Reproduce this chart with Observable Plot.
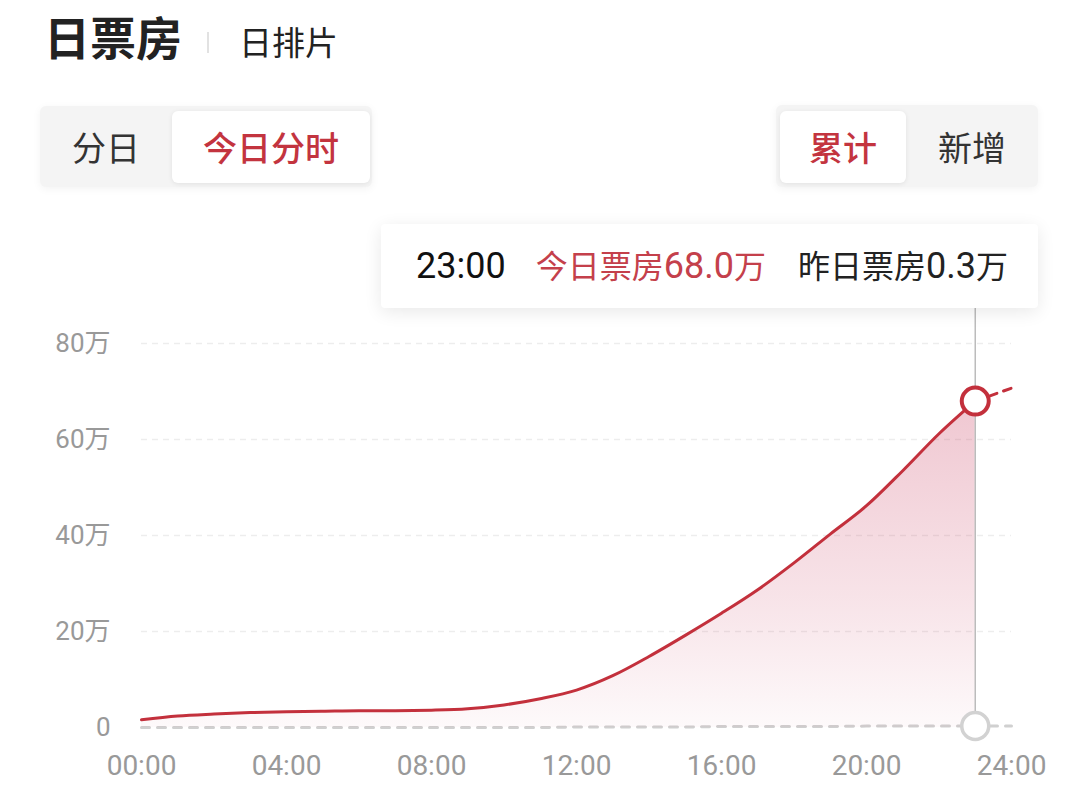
<!DOCTYPE html>
<html>
<head>
<meta charset="utf-8">
<script src="https://cdn.jsdelivr.net/npm/d3@7"></script>
<script src="https://cdn.jsdelivr.net/npm/@observablehq/plot@0.6"></script>
<style>
  html, body { margin: 0; padding: 0; background: #fff; }
  body { width: 1080px; height: 809px; overflow: hidden; position: relative;
         font-family: Roboto, "Noto Sans CJK SC", sans-serif; }
  .abs { position: absolute; line-height: 1; white-space: nowrap; }
  .cjk { font-family: "Noto Sans CJK SC", sans-serif; }
  .seg { position: absolute; background: #f4f4f4; border-radius: 6px;
         box-shadow: 0 2px 8px rgba(0,0,0,0.05); }
  .tab { position: absolute; display: flex; align-items: center; justify-content: center;
         font-family: "Noto Sans CJK SC", sans-serif; font-size: 34px; line-height: 1; color: #333; }
  .tab.on { background: #fff; border-radius: 6px; box-shadow: 0 1px 5px rgba(0,0,0,0.08);
            color: #c3343f; font-weight: 500; }
  #chart { position: absolute; left: 0; top: 200px; z-index: 1; }
  #tip { position: absolute; left: 381px; top: 224px; width: 657px; height: 84px; z-index: 2;
         background: #fff; border-radius: 4px; box-shadow: 0 4px 18px rgba(0,0,0,0.09);
         display: flex; align-items: center; }
  #tip .line { margin-left: 35px; line-height: 1; white-space: nowrap; font-size: 32px; }
  .num { font-family: Roboto, sans-serif; font-size: 36px; }
</style>
</head>
<body>
<div class="abs cjk" style="left:44px;top:12px;font-size:46px;font-weight:700;color:#222;">日票房</div>
<div class="abs" style="left:207px;top:32px;width:2px;height:21px;background:#e2e2e2;"></div>
<div class="abs cjk" style="left:239px;top:25px;font-size:33px;color:#222;">日排片</div>

<div class="seg" style="left:40px;top:106px;width:332px;height:81px;"></div>
<div class="tab" style="left:40px;top:111px;width:132px;height:72px;">分日</div>
<div class="tab on" style="left:172px;top:111px;width:198px;height:72px;">今日分时</div>

<div class="seg" style="left:776px;top:105px;width:262px;height:82px;"></div>
<div class="tab on" style="left:780px;top:111px;width:126px;height:72px;">累计</div>
<div class="tab" style="left:906px;top:111px;width:132px;height:72px;">新增</div>

<div id="tip"><div class="line" id="tipline"></div></div>
<div id="chart"></div>

<script>
// ---- data (box office in 万, cumulative) ----
const hours      = [0,1,2,3,4,5,6,7,8,9,10,11,12,13,14,15,16,17,18,19,20,21,22,23];
const todayBox   = [1.6,2.4,2.8,3.1,3.3,3.4,3.5,3.5,3.6,3.9,4.7,6.0,7.8,10.8,14.8,19.2,23.8,28.7,34.3,40.3,46.2,53.5,61.2,68.0];
const yHours     = [0,1,2,3,4,5,6,7,8,9,10,11,12,13,14,15,16,17,18,19,20,21,22,23,24];
const yesterdayBox = [0,0,0,0,0,0,0,0,0,0,0,0,0.1,0.1,0.1,0.1,0.2,0.2,0.2,0.2,0.3,0.3,0.3,0.3,0.3];
const trendHours = [23,24];
const trendBox   = [68.0,70.7];
const xTicks     = [0,4,8,12,16,20,24];
const xTickLabels = ["00:00","04:00","08:00","12:00","16:00","20:00","24:00"];
const yTicks     = [0,20,40,60,80];
const yTickLabels = ["0","20万","40万","60万","80万"];
const gridTicks  = [20,40,60,80];
const markerHour = 23;
const tipTime    = "23:00";
const todayName  = "今日票房";
const yestName   = "昨日票房";
const unit       = "万";

const RED = "#c3303c";

const today = hours.map((h,i) => ({h, v: todayBox[i]}));
const yesterday = yHours.map((h,i) => ({h, v: yesterdayBox[i]}));
const trend = trendHours.map((h,i) => ({h, v: trendBox[i]}));
const mi = hours.indexOf(markerHour);
const todayMarker = [{h: markerHour, v: todayBox[mi]}];
const yestMarker = [{h: markerHour, v: yesterdayBox[yHours.indexOf(markerHour)]}];

// tooltip text
document.getElementById("tipline").innerHTML =
  `<span class="num" style="color:#111">${tipTime}</span>` +
  `<span style="color:#c4404b;margin-left:30px">${todayName}<span class="num">${todayBox[mi].toFixed(1)}</span>${unit}</span>` +
  `<span style="color:#222;margin-left:32px">${yestName}<span class="num">${yesterdayBox[yHours.indexOf(markerHour)].toFixed(1)}</span>${unit}</span>`;

const gradientDefs = () => {
  const ns = "http://www.w3.org/2000/svg";
  const defs = document.createElementNS(ns, "defs");
  defs.innerHTML = `<linearGradient id="areaGrad" x1="0" y1="0" x2="0" y2="1">
      <stop offset="0%" stop-color="#cc4566" stop-opacity="0.30"/>
      <stop offset="60%" stop-color="#cc4566" stop-opacity="0.15"/>
      <stop offset="100%" stop-color="#cc4566" stop-opacity="0.03"/>
    </linearGradient>`;
  return defs;
};

const chart = Plot.plot({
  width: 1080,
  height: 609,
  marginTop: 143,
  marginBottom: 82,
  marginLeft: 141,
  marginRight: 69,
  style: {fontFamily: "Roboto, 'Noto Sans CJK SC', sans-serif", background: "transparent", overflow: "visible"},
  x: {domain: [0, 24]},
  y: {domain: [0, 80]},
  marks: [
    gradientDefs,
    Plot.gridY(gridTicks, {stroke: "#ededed", strokeOpacity: 1, strokeWidth: 1.5, strokeDasharray: "6,5"}),
    Plot.axisY(yTicks, {tickSize: 0, tickPadding: 31, fontSize: 26, fill: "#999",
      tickFormat: d => yTickLabels[yTicks.indexOf(d)], label: null}),
    Plot.axisX(xTicks, {tickSize: 0, tickPadding: 28, fontSize: 28, fill: "#999",
      tickFormat: d => xTickLabels[xTicks.indexOf(d)], label: null}),
    Plot.lineY(yesterday, {x: "h", y: "v", stroke: "#d0d0d0", strokeWidth: 3, strokeDasharray: "8,8"}),
    Plot.areaY(today, {x: "h", y: "v", fill: "url(#areaGrad)", curve: "monotone-x"}),
    Plot.lineY(today, {x: "h", y: "v", stroke: RED, strokeWidth: 3, curve: "monotone-x"}),
    Plot.lineY(trend, {x: "h", y: "v", stroke: RED, strokeWidth: 3, strokeDasharray: "8,7"}),
    Plot.ruleX([markerHour], {y1: 0, y2: 90, stroke: "#bcbcbc", strokeWidth: 1.5}),
    Plot.dot(yestMarker, {x: "h", y: "v", r: 13.5, stroke: "#d2d2d2", strokeWidth: 3.5, fill: "#fff"}),
    Plot.dot(todayMarker, {x: "h", y: "v", r: 13.5, stroke: RED, strokeWidth: 4, fill: "#fff"})
  ]
});
document.getElementById("chart").appendChild(chart);
</script>
</body>
</html>
